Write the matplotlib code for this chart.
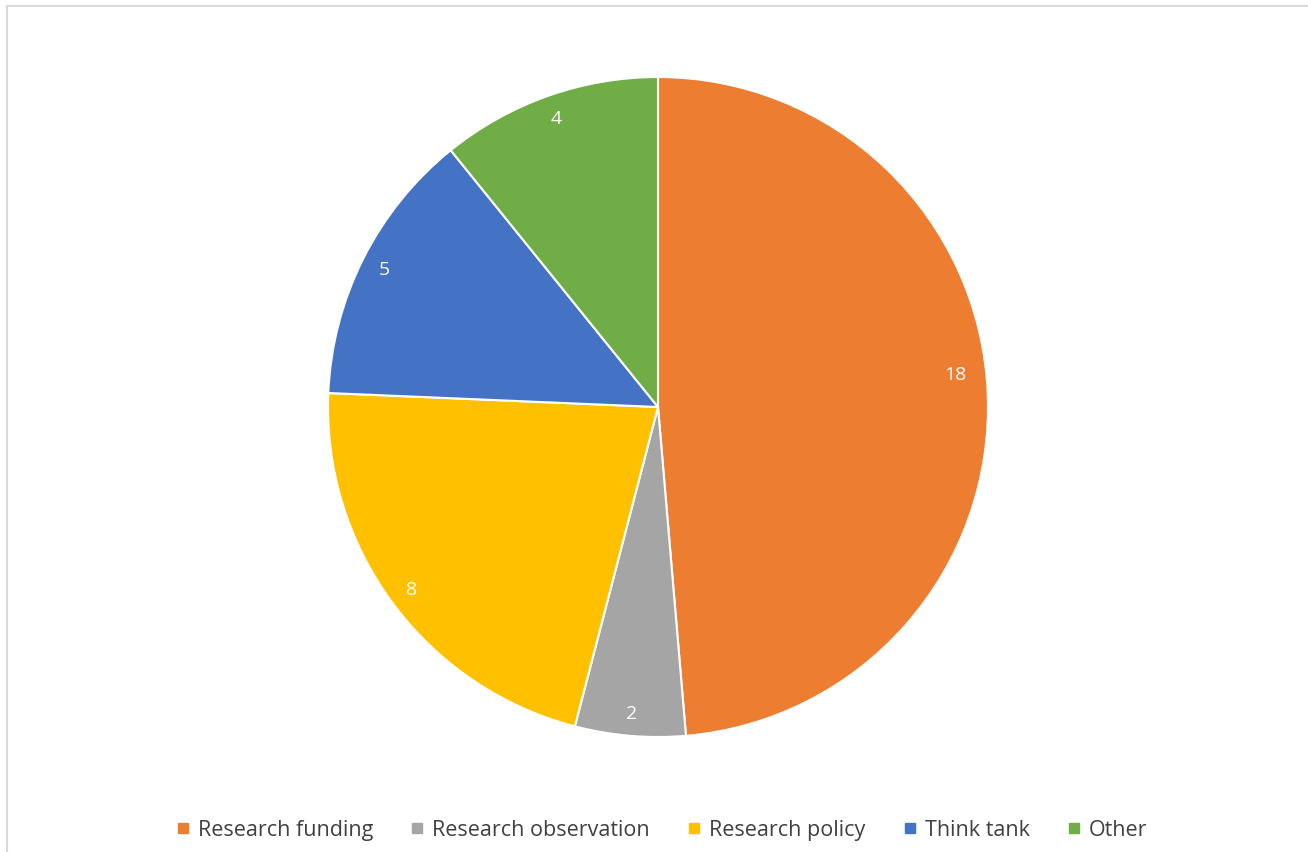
import matplotlib
matplotlib.use("Agg")
import matplotlib.pyplot as plt
from matplotlib.patches import Rectangle
from matplotlib.lines import Line2D

categories = ["Research funding", "Research observation", "Research policy", "Think tank", "Other"]
counts = [18, 2, 8, 5, 4]
colors = ["#ED7D31", "#A5A5A5", "#FFC000", "#4472C4", "#70AD47"]

plt.rcParams["font.family"] = ["Open Sans", "DejaVu Sans"]

W, H = 1308, 853
fig = plt.figure(figsize=(W / 100, H / 100), dpi=100)
fig.patch.set_facecolor("white")

# light frame, only top and left edges visible in the reference
fig.patches.append(Rectangle((7 / W, -0.1), 1.5, 1 - 7 / H + 0.1, transform=fig.transFigure,
                             fill=False, edgecolor="#D9D9D9", linewidth=1.5))

cx, cy, r = 658, 408, 330
ax = fig.add_axes([(cx - r) / W, (H - cy - r) / H, 2 * r / W, 2 * r / H])
wedges, texts, autotexts = ax.pie(
    counts, colors=colors, startangle=90, counterclock=False,
    autopct=lambda p: f"{round(p * sum(counts) / 100):d}", pctdistance=0.93,
    wedgeprops=dict(edgecolor="white", linewidth=1.5),
    textprops=dict(color="white", fontsize=14),
)
# Excel nudges the big slice's label a little inward/up
x, y = autotexts[0].get_position()
autotexts[0].set_position((x * 0.97, y + 0.06))
ax.set_xlim(-1, 1)
ax.set_ylim(-1, 1)
ax.set_aspect("equal")
ax.axis("off")

handles = [Line2D([0], [0], marker="s", linestyle="none", markersize=7.5,
                  markerfacecolor=c, markeredgecolor=c) for c in colors]
fig.legend(handles, categories, loc="center", bbox_to_anchor=(0.506, 1 - 831 / H),
           ncol=5, frameon=False, fontsize=15.5, handlelength=0.6, handletextpad=0.4,
           columnspacing=1.75, labelcolor="#404040")

fig.savefig("out.png", dpi=100)
plt.close(fig)
